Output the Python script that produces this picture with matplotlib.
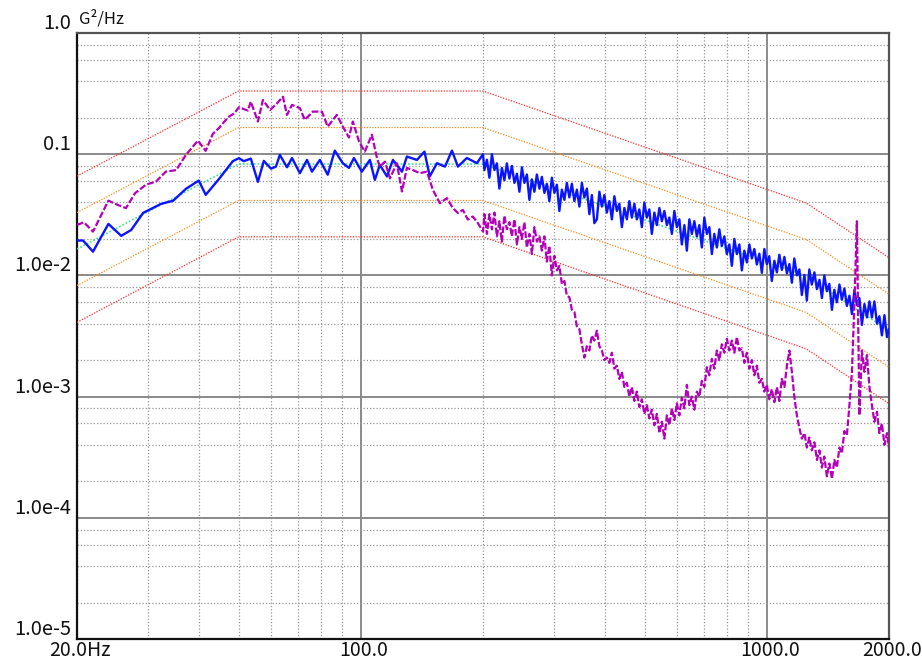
import numpy as np
import matplotlib
matplotlib.use("Agg")
import matplotlib.pyplot as plt
import matplotlib.transforms as mtransforms
from matplotlib.ticker import LogLocator, NullFormatter

plt.rcParams['font.family'] = ['Noto Sans CJK JP', 'DejaVu Sans']

# ---------------- profile (reference + tolerance) ----------------
prof_freq = [20, 50, 200, 1250, 2000]
ref_psd = [0.0165, 0.083, 0.083, 0.0099, 0.0035]
warn_hi = [0.033, 0.166, 0.166, 0.0198, 0.0070]
warn_lo = [0.00825, 0.0415, 0.0415, 0.00495, 0.00175]
abort_hi = [0.066, 0.332, 0.332, 0.0396, 0.0140]
abort_lo = [0.0041, 0.0208, 0.0208, 0.00248, 0.000875]

# ---------------- control (blue) ----------------
blue_lo_freq = [20.0, 20.7, 21.9, 23.9, 25.7, 27.2, 29.1, 32.2, 34.5, 37.1,
                39.9, 41.5, 44.7, 48.4, 50.1, 51.5, 53.6, 55.8, 57.7, 60.1,
                61.8, 63.2, 65.8, 67.7, 70.8, 73.7, 75.8, 79.3, 82.9, 86.3,
                90.3, 93.5, 96.2, 100.6, 105.3, 108.3, 111.4, 116.0, 120.0, 126.3,
                129.9, 137.5, 143.5, 147.9, 154.0, 161.2, 167.7, 173.5, 182.5, 193.2]
blue_lo_vals = [0.0194, 0.0194, 0.0157, 0.0266, 0.0212, 0.0237, 0.0328, 0.0389, 0.0413, 0.0518,
                0.0606, 0.0462, 0.0622, 0.0876, 0.0927, 0.0876, 0.092, 0.0591, 0.088, 0.076,
                0.079, 0.0987, 0.078, 0.093, 0.0698, 0.0897, 0.0718, 0.0897, 0.0677, 0.107,
                0.0843, 0.0771, 0.093, 0.0718, 0.0897, 0.0614, 0.0817, 0.0656, 0.0897, 0.0718,
                0.0956, 0.0897, 0.105, 0.0656, 0.0843, 0.079, 0.107, 0.079, 0.093, 0.0843]

freq_hi = [200, 201.6, 204.5, 207.4, 210.4, 213.4, 216.4, 219.5, 222.6, 225.8,
           229.0, 232.3, 235.6, 239.0, 242.4, 245.9, 249.4, 252.9, 256.5, 260.2,
           263.9, 267.7, 271.5, 275.4, 279.3, 283.3, 287.3, 291.4, 295.6, 299.8,
           304.1, 308.4, 312.8, 317.3, 321.8, 326.4, 331.1, 335.8, 340.6, 345.5,
           350.4, 355.4, 360.5, 365.6, 370.8, 376.1, 381.5, 387.0, 392.5, 398.1,
           403.7, 409.5, 415.4, 421.3, 427.3, 433.4, 439.6, 445.9, 452.2, 458.7,
           465.2, 471.9, 478.6, 485.4, 492.4, 499.4, 506.5, 513.7, 521.1, 528.5,
           536.1, 543.8, 551.5, 559.4, 567.4, 575.5, 583.7, 592.0, 600.5, 609.1,
           617.7, 626.6, 635.5, 644.6, 653.8, 663.1, 672.6, 682.2, 691.9, 701.8,
           711.8, 722.0, 732.3, 742.7, 753.4, 764.1, 775.0, 786.1, 797.3, 808.7,
           820.3, 832.0, 843.9, 855.9, 868.1, 880.5, 893.1, 905.8, 918.8, 931.9,
           945.2, 958.7, 972.4, 986.3, 1000, 1014, 1029, 1044, 1059, 1074,
           1089, 1105, 1121, 1137, 1153, 1169, 1186, 1203, 1220, 1238,
           1255, 1273, 1291, 1310, 1329, 1348, 1367, 1386, 1406, 1426,
           1447, 1467, 1488, 1510, 1531, 1553, 1575, 1598, 1621, 1644,
           1667, 1691, 1715, 1740, 1765, 1790, 1815, 1841, 1868, 1894,
           1921, 1949, 1977, 2000]

blue_hi_vals = [0.100, 0.074, 0.090, 0.064, 0.100, 0.074, 0.084, 0.052, 0.077, 0.061,
                0.084, 0.063, 0.080, 0.058, 0.069, 0.049, 0.078, 0.058, 0.068, 0.042,
                0.062, 0.049, 0.068, 0.052, 0.065, 0.048, 0.057, 0.041, 0.064, 0.048,
                0.056, 0.034, 0.051, 0.042, 0.058, 0.044, 0.057, 0.041, 0.051, 0.037,
                0.058, 0.044, 0.052, 0.032, 0.046, 0.027, 0.029, 0.049, 0.037, 0.046,
                0.033, 0.041, 0.029, 0.045, 0.034, 0.039, 0.025, 0.036, 0.029, 0.041,
                0.030, 0.039, 0.029, 0.035, 0.025, 0.040, 0.030, 0.035, 0.022, 0.033,
                0.026, 0.036, 0.028, 0.034, 0.026, 0.030, 0.022, 0.034, 0.025, 0.029,
                0.018, 0.026, 0.016, 0.029, 0.022, 0.028, 0.021, 0.026, 0.017, 0.030,
                0.022, 0.025, 0.015, 0.022, 0.017, 0.024, 0.0175, 0.021, 0.015, 0.018,
                0.012, 0.020, 0.015, 0.018, 0.011, 0.016, 0.0128, 0.018, 0.0138, 0.0165,
                0.0123, 0.0151, 0.0105, 0.0165, 0.0124, 0.0144, 0.0090, 0.0132, 0.0106, 0.0148,
                0.0111, 0.0142, 0.0104, 0.0124, 0.0087, 0.0138, 0.0100, 0.0112, 0.0069, 0.0101,
                0.0062, 0.0112, 0.0084, 0.0106, 0.0077, 0.0092, 0.0065, 0.0100, 0.0074, 0.0085,
                0.0052, 0.0076, 0.0060, 0.0084, 0.0063, 0.0078, 0.0056, 0.0068, 0.0048, 0.0076,
                0.0057, 0.0065, 0.0039, 0.0058, 0.0045, 0.0061, 0.0045, 0.0061, 0.0040, 0.0046,
                0.0032, 0.0047, 0.0031, 0.0036]

# ---------------- response (magenta) ----------------
mag_lo_freq = [20.0, 20.8, 21.9, 23.9, 25.1, 26.4, 27.8, 29.6, 31.3, 33.1,
               35.1, 37.1, 39.7, 41.5, 43.2, 44.7, 47.1, 48.8, 50.1, 52.7,
               53.6, 55.8, 57.4, 59.8, 62.2, 64.3, 65.8, 67.7, 70.8, 72.8,
               76.2, 80.2, 82.9, 87.3, 90.3, 93.5, 95.6, 99.0, 102.3, 106.5,
               109.6, 111.4, 114.7, 118.0, 122.7, 126.3, 129.9, 134.4, 139.8, 145.5,
               150.5, 156.6, 163.0, 168.6, 173.5, 178.4, 183.5, 188.8, 194.3]
mag_lo_vals = [0.0261, 0.0274, 0.023, 0.0414, 0.0384, 0.0359, 0.0477, 0.0561, 0.0594, 0.0718,
               0.0739, 0.0987, 0.1295, 0.1066, 0.147, 0.164, 0.2016, 0.2176, 0.244, 0.229,
               0.271, 0.186, 0.280, 0.2316, 0.263, 0.298, 0.211, 0.255, 0.24, 0.192,
               0.2246, 0.2246, 0.169, 0.211, 0.169, 0.1374, 0.186, 0.1276, 0.105, 0.1448,
               0.093, 0.079, 0.0868, 0.0632, 0.0843, 0.0493, 0.0771, 0.0739, 0.0698, 0.0718,
               0.0508, 0.0394, 0.0434, 0.0359, 0.0327, 0.0347, 0.0289, 0.0306, 0.027]

mag_hi_vals = [0.023, 0.032, 0.022, 0.032, 0.024, 0.033, 0.021, 0.028, 0.019, 0.031,
               0.024, 0.0275, 0.021, 0.029, 0.018, 0.025, 0.020, 0.0275, 0.017, 0.022,
               0.015, 0.025, 0.019, 0.021, 0.016, 0.021, 0.013, 0.0175, 0.0100, 0.0145,
               0.0110, 0.0120, 0.0085, 0.0090, 0.0068, 0.0066, 0.0052, 0.0050, 0.0038, 0.0036,
               0.0027, 0.0021, 0.0026, 0.0024, 0.0032, 0.0029, 0.0035, 0.0026, 0.0024, 0.0020,
               0.0021, 0.0019, 0.0023, 0.0017, 0.0018, 0.0014, 0.0016, 0.0012, 0.0013, 0.0010,
               0.0012, 0.00092, 0.0011, 0.00082, 0.00095, 0.00072, 0.00085, 0.00066, 0.00078, 0.00058,
               0.00072, 0.00050, 0.00062, 0.00045, 0.00070, 0.00058, 0.00080, 0.00064, 0.00088, 0.00070,
               0.00098, 0.00080, 0.00125, 0.00085, 0.00100, 0.00078, 0.00110, 0.00100, 0.00135, 0.00120,
               0.00175, 0.00150, 0.00205, 0.00170, 0.00240, 0.00200, 0.00270, 0.00230, 0.00300, 0.00240,
               0.00290, 0.00230, 0.00310, 0.00240, 0.00250, 0.00190, 0.00230, 0.00170, 0.00200, 0.00150,
               0.00180, 0.00130, 0.00140, 0.00110, 0.00125, 0.00095, 0.00115, 0.00090, 0.00120, 0.00092,
               0.00140, 0.00120, 0.00180, 0.00240, 0.00160, 0.00100, 0.00070, 0.00055, 0.00045, 0.00050,
               0.00038, 0.00046, 0.00036, 0.00042, 0.00030, 0.00036, 0.00026, 0.00032, 0.00022, 0.00028,
               0.00021, 0.00030, 0.00026, 0.00038, 0.00034, 0.00052, 0.00048, 0.00085, 0.00160, 0.0060,
               0.0280, 0.00070, 0.00240, 0.00160, 0.00220, 0.00120, 0.00085, 0.00062, 0.00075, 0.00050,
               0.00060, 0.00040, 0.00050, 0.00038]

# ---------------- labels ----------------
x_tick_vals = [20, 100, 1000, 2000]
x_tick_text = ["20.0Hz", "100.0", "1000.0", "2000.0"]
y_tick_vals = [1.0, 0.1, 1e-2, 1e-3, 1e-4, 1e-5]
y_tick_text = ["1.0", "0.1", "1.0e-2", "1.0e-3", "1.0e-4", "1.0e-5"]
unit_text = "G\u00b2/Hz"

# ---------------- figure ----------------
W, H = 922, 663
fig = plt.figure(figsize=(W / 100, H / 100), dpi=100)
L, R, T, B = 77, 889, 33, 639
ax = fig.add_axes([L / W, 1 - B / H, (R - L) / W, (B - T) / H])
ax.set_xscale('log')
ax.set_yscale('log')
ax.set_xlim(20, 2000)
ax.set_ylim(1e-5, 1.0)

ax.xaxis.set_major_locator(LogLocator(base=10, numticks=10))
ax.xaxis.set_minor_locator(LogLocator(base=10, subs=tuple(range(2, 10)), numticks=20))
ax.yaxis.set_major_locator(LogLocator(base=10, numticks=10))
ax.yaxis.set_minor_locator(LogLocator(base=10, subs=(2, 4, 6, 8), numticks=20))
for a in (ax.xaxis, ax.yaxis):
    a.set_major_formatter(NullFormatter())
    a.set_minor_formatter(NullFormatter())
ax.tick_params(which='both', length=0)
ax.set_axisbelow(True)
ax.grid(which='major', color='#8a8a8a', lw=1.4, ls='-')
ax.grid(which='minor', color='#969696', lw=0.9, ls=(0, (1, 1.6)))

for s in ['left', 'bottom']:
    ax.spines[s].set_color('#111111')
    ax.spines[s].set_linewidth(1.6)
for s in ['top', 'right']:
    ax.spines[s].set_color('#555555')
    ax.spines[s].set_linewidth(1.6)

dot = (0, (1, 1.2))
ax.plot(prof_freq, abort_hi, color='#ff2a2a', lw=0.9, ls=dot, zorder=3)
ax.plot(prof_freq, abort_lo, color='#ff2a2a', lw=0.9, ls=dot, zorder=3)
ax.plot(prof_freq, warn_hi, color='#ff8c1a', lw=0.9, ls=dot, zorder=3)
ax.plot(prof_freq, warn_lo, color='#ff8c1a', lw=0.9, ls=dot, zorder=3)
ax.plot(prof_freq, ref_psd, color='#3ee08e', lw=1.2, ls=dot, zorder=3)

blue_f = np.concatenate([blue_lo_freq, freq_hi])
blue_v = np.concatenate([blue_lo_vals, blue_hi_vals])
ax.plot(blue_f, blue_v, color='#0a14ff', lw=1.7, zorder=4)

mag_f = np.concatenate([mag_lo_freq, freq_hi])
mag_v = np.concatenate([mag_lo_vals, mag_hi_vals])
ax.plot(mag_f, mag_v, color='#b400b8', lw=1.6, ls=(0, (3, 1)), zorder=5)

# axis labels as text
ty = mtransforms.blended_transform_factory(ax.transAxes, ax.transData)
ty = mtransforms.offset_copy(ty, fig=fig, x=-6, y=4, units='dots')
for v, t in zip(y_tick_vals, y_tick_text):
    ax.text(0, v, t, transform=ty, ha='right', va='baseline', fontsize=14.5, color='#111111')

tx = mtransforms.blended_transform_factory(ax.transData, ax.transAxes)
tx = mtransforms.offset_copy(tx, fig=fig, x=3, y=-17, units='dots')
for v, t in zip(x_tick_vals, x_tick_text):
    ax.text(v, 0, t, transform=tx, ha='center', va='baseline', fontsize=14, color='#111111')

tu = mtransforms.offset_copy(ax.transAxes, fig=fig, x=2, y=10, units='dots')
ax.text(0, 1, unit_text, transform=tu, ha='left', va='baseline', fontsize=12, color='#111111')

fig.savefig('out.png', dpi=100, facecolor='white')
